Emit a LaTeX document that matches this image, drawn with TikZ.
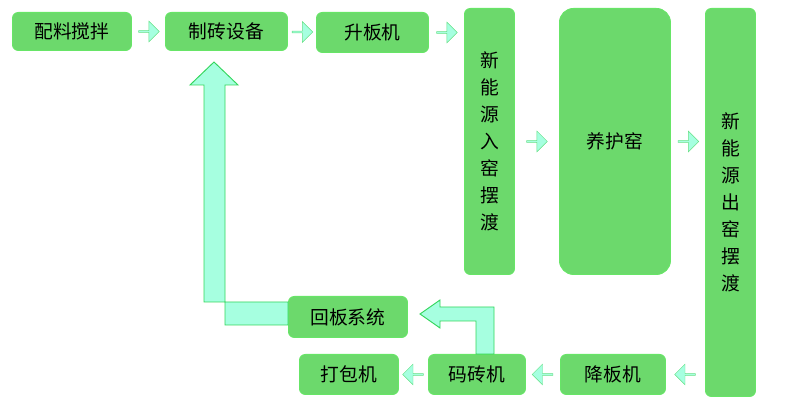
\documentclass[tikz,border=0pt]{standalone}
\usepackage{fontspec}
\newfontfamily\cjk{Noto Sans CJK SC}
\usepackage{tikz}
\usetikzlibrary{shapes.arrows,calc}

\begin{document}
\begin{tikzpicture}[x=0.03cm,y=-0.03cm,font=\cjk\fontsize{16}{23}\selectfont]
\tikzstyle{box}=[draw=green!55!white!90!black,line width=0.8pt,fill=green!50!white!85!black,rounded corners=5pt,inner sep=0pt,anchor=north west]
\tikzstyle{sarrow}=[single arrow,draw=teal!40!green!60,fill=green!35!cyan!35,minimum height=0.62cm,minimum width=0.62cm,single arrow head extend=2pt,inner sep=0pt]
\tikzstyle{bigarrow}=[draw=green!60!teal!80,line width=0.8pt,fill=green!35!cyan!35,line join=miter]
\useasboundingbox (0,0) rectangle (800,404);
% boxes
\node[box,minimum width=3.57cm,minimum height=1.14cm] (mix) at (12,12) {配料搅拌};
\node[box,minimum width=3.66cm,minimum height=1.14cm] (brick) at (165,12) {制砖设备};
\node[box,minimum width=3.36cm,minimum height=1.2cm] (lift) at (316,12) {升板机};
\node[box,minimum width=1.5cm,minimum height=7.98cm] (in) at (464,8) {};
\node[align=center] at (in.center) {新\\能\\源\\入\\窑\\摆\\渡};
\node[box,minimum width=3.33cm,minimum height=7.98cm,rounded corners=12pt] (kiln) at (559,8) {养护窑};
\node[box,minimum width=1.5cm,minimum height=11.64cm] (out) at (705,8) {};
\node[align=center] at (out.center) {新\\能\\源\\出\\窑\\摆\\渡};
\node[box,minimum width=3.15cm,minimum height=1.2cm] (lower) at (560,354) {降板机};
\node[box,minimum width=2.91cm,minimum height=1.2cm] (stack) at (428,354) {码砖机};
\node[box,minimum width=2.97cm,minimum height=1.2cm] (pack) at (299,354) {打包机};
\node[box,minimum width=3.57cm,minimum height=1.23cm] (ret) at (288,296) {回板系统};
% small arrows
\node[sarrow] at ($(mix.east)!0.5!(brick.west)$) {};
\node[sarrow] at ($(brick.east)!0.5!(lift.west)$) {};
\node[sarrow] at ($(lift.east)!0.5!(lift.east-|in.west)$) {};
\node[sarrow] at ($(in.west|-kiln.center)!0.5!(kiln.west)+(25,0)$) {};
\node[sarrow] at ($(kiln.east)!0.5!(kiln.east-|out.west)$) {};
\node[sarrow,shape border rotate=180] at ($(lower.east)!0.5!(lower.east-|out.west)$) {};
\node[sarrow,shape border rotate=180] at ($(stack.east)!0.5!(lower.west)$) {};
\node[sarrow,shape border rotate=180] at ($(pack.east)!0.5!(stack.west)$) {};
% bent arrows
\draw[bigarrow] (288,302) -- (204,302) -- (204,85) -- (190,85) -- (214,62) -- (238,85) -- (225,85) -- (225,325) -- (288,325) -- cycle;
\draw[bigarrow] (476,354) -- (476,321) -- (440,321) -- (440,328) -- (420,314) -- (440,300) -- (440,307) -- (494,307) -- (494,354) -- cycle;
\end{tikzpicture}
\end{document}
